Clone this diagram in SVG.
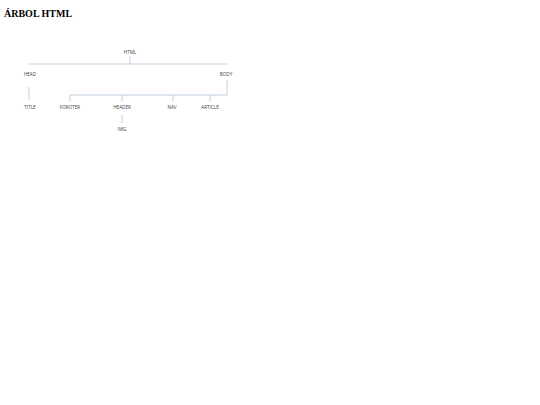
<svg xmlns="http://www.w3.org/2000/svg" width="540" height="405" viewBox="0 0 540 405">
<style>
.t{font-family:"Open Sans","Liberation Sans",sans-serif;font-size:4.6px;fill:#404040;text-anchor:middle}
.h{font-family:"Liberation Serif","Times New Roman",serif;font-size:10px;font-weight:bold;fill:#000}
.c{stroke:#b3c4d8;stroke-width:0.8;fill:none}
</style>
<rect width="540" height="405" fill="#fff"/>
<text class="h" x="4" y="17">ÁRBOL HTML</text>
<g id="connectors" class="c">
<path d="M130 56V64M29 64H227"/>
<path d="M29 87V100"/>
<path d="M227 80V95H70V101.5M122 95V101.5M173 95V101.5M210 95V101.5"/>
<path d="M122 115V123"/>
</g>
<g id="html"><text class="t" x="130" y="53.5">HTML</text></g>
<g id="head"><text class="t" x="30" y="75.6">HEAD</text></g>
<g id="body"><text class="t" x="226" y="75.6">BODY</text></g>
<g id="title"><text class="t" x="30" y="108.6">TITLE</text></g>
<g id="footer"><text class="t" x="70" y="108.6">FOROTER</text></g>
<g id="header"><text class="t" x="122" y="108.6">HEADER</text></g>
<g id="nav"><text class="t" x="172" y="108.6">NAV</text></g>
<g id="article"><text class="t" x="210" y="108.6">ARTICLE</text></g>
<g id="img"><text class="t" x="122" y="130.6">IMG</text></g>
</svg>
